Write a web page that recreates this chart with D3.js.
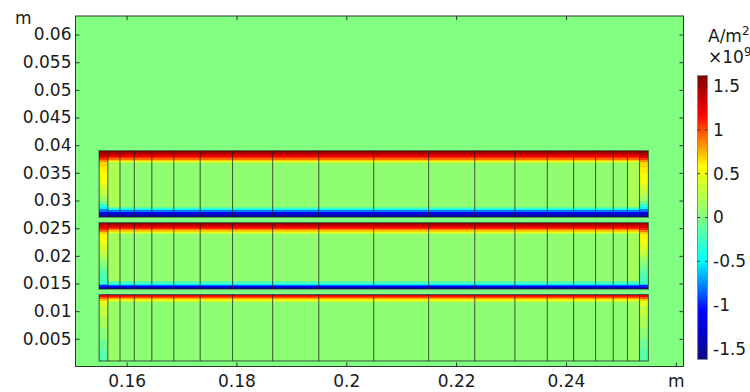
<!DOCTYPE html>
<html><head><meta charset="utf-8">
<script src="https://cdn.jsdelivr.net/npm/d3@7"></script>
<style>
html,body{margin:0;padding:0;background:#fff;}
svg{display:block;}
text{font-family:"DejaVu Sans",sans-serif;fill:#1a1a1a;}
</style>
</head><body>
<svg id="chart" width="750" height="392"></svg>
<script>
// Conductor layers (m)
const layerTop = [0.039, 0.026, 0.013];
const layerBottom = [0.027, 0.014, 0.001];
// Subdomain boundaries along x (m)
const colEdges = [0.155, 0.1566, 0.1588, 0.1614, 0.1646, 0.1686, 0.1734, 0.1793, 0.1866, 0.195,
  0.205, 0.215, 0.2234, 0.2307, 0.2366, 0.2414, 0.2454, 0.2486, 0.2512, 0.2534, 0.255];

// Axis ticks
const xTicks = [0.16, 0.18, 0.2, 0.22, 0.24, 0.26];
const xTickLabels = ["0.16", "0.18", "0.2", "0.22", "0.24", "m"];
const yTicks = [0.005, 0.01, 0.015, 0.02, 0.025, 0.03, 0.035, 0.04, 0.045, 0.05, 0.055, 0.06];
const yTickLabels = ["0.005", "0.01", "0.015", "0.02", "0.025", "0.03", "0.035", "0.04", "0.045", "0.05", "0.055", "0.06"];
const cbTicks = [1.5, 1, 0.5, 0, -0.5, -1, -1.5];
const cbTickLabels = ["1.5", "1", "0.5", "0", "-0.5", "-1", "-1.5"];

// Current density, in 1e9 A/m^2
const bandStep = 0.0002; // m between band samples
const topBand = [
  [1.56, 1.50, 1.44, 1.36, 1.28, 1.20, 1.08, 0.92, 0.72, 0.50, 0.30, 0.16],
  [1.52, 1.46, 1.38, 1.28, 1.18, 1.05, 0.90, 0.70, 0.48, 0.28, 0.15],
  [1.22, 1.12, 0.98, 0.80, 0.62, 0.45, 0.30, 0.18]
];
const bottomBand = [
  [-1.52, -1.46, -1.36, -1.22, -1.05, -0.80, -0.50, -0.28, -0.12],
  [-1.40, -1.30, -1.12, -0.85, -0.52, -0.25, -0.10],
  []
];
const interiorValue = [0.07, 0.07, 0.06];
const secondColValue = [0.2, 0.16, 0.12];
// End subdomains: depth below the top face (mm) and value per band
const edgeDepth = [
  [0, 0.5, 1.0, 1.3, 1.6, 2.0, 3, 4, 5, 6, 7, 8, 9, 9.6, 10.2, 10.6, 11, 11.4, 11.7, 12],
  [0, 0.5, 1.0, 1.3, 1.6, 2, 3, 4, 5, 6, 7, 8, 9, 10, 11, 11.3, 11.6, 12],
  [0, 0.4, 0.8, 1.2, 2, 4, 6, 8, 10, 12]
];
const edgeValue = [
  [1.55, 1.45, 1.25, 1.05, 0.85, 0.68, 0.62, 0.58, 0.52, 0.42, 0.3, 0.15, -0.05, -0.3, -0.5, -0.8, -1.1, -1.35, -1.5],
  [1.45, 1.3, 1.1, 0.9, 0.7, 0.6, 0.52, 0.42, 0.3, 0.15, 0.02, -0.1, -0.18, -0.25, -0.6, -1.0, -1.3],
  [1.2, 0.95, 0.7, 0.45, 0.3, 0.18, 0.05, -0.08, -0.16]
];
const airValue = 0;

// Rainbow colour table
const mapValues = [-1.62, -1.07, -0.49, 0, 0.58, 1.17, 1.62];
const mapColors = ["#0b0b85", "#0000ff", "#00ffff", "#80ff80", "#ffff00", "#ff0000", "#800000"];

const svg = d3.select("#chart");
const x = d3.scaleLinear().domain([0.1507, 0.2614]).range([75.5, 683.5]);
const y = d3.scaleLinear().domain([0, 0.06335]).range([366.5, 16]);
const color = d3.scaleLinear().domain(mapValues).range(mapColors).interpolate(d3.interpolateRgb).clamp(true);

// Air background
svg.append("rect").attr("x", x.range()[0]).attr("y", y.range()[1])
  .attr("width", x.range()[1] - x.range()[0]).attr("height", y.range()[0] - y.range()[1])
  .attr("fill", color(airValue));

const field = svg.append("g").attr("shape-rendering", "crispEdges");
const nCol = colEdges.length - 1;
const xa = colEdges[0], xb = colEdges[nCol];

layerTop.forEach((top, k) => {
  const bot = layerBottom[k];
  const g = field.append("g");
  // interior
  g.append("rect").attr("x", x(xa)).attr("width", x(xb) - x(xa))
    .attr("y", y(top)).attr("height", y(bot) - y(top)).attr("fill", color(interiorValue[k]));
  // second subdomain from each end
  [1, nCol - 2].forEach(c => {
    g.append("rect").attr("x", x(colEdges[c])).attr("width", x(colEdges[c + 1]) - x(colEdges[c]))
      .attr("y", y(top)).attr("height", y(bot) - y(top)).attr("fill", color(secondColValue[k]));
  });
  // skin layer under the top face
  g.selectAll(null).data(topBand[k]).join("rect")
    .attr("x", x(xa)).attr("width", x(xb) - x(xa))
    .attr("y", (d, i) => y(top - i * bandStep))
    .attr("height", (d, i) => y(top - (i + 1) * bandStep) - y(top - i * bandStep))
    .attr("fill", d => color(d));
  // skin layer above the bottom face
  g.selectAll(null).data(bottomBand[k]).join("rect")
    .attr("x", x(xa)).attr("width", x(xb) - x(xa))
    .attr("y", (d, i) => y(bot + (i + 1) * bandStep))
    .attr("height", (d, i) => y(bot + i * bandStep) - y(bot + (i + 1) * bandStep))
    .attr("fill", d => color(d));
  // end subdomains
  [0, nCol - 1].forEach(c => {
    g.selectAll(null).data(edgeValue[k]).join("rect")
      .attr("x", x(colEdges[c])).attr("width", x(colEdges[c + 1]) - x(colEdges[c]))
      .attr("y", (d, i) => y(top - edgeDepth[k][i] / 1000))
      .attr("height", (d, i) => y(top - edgeDepth[k][i + 1] / 1000) - y(top - edgeDepth[k][i] / 1000))
      .attr("fill", d => color(d));
  });
});

// Subdomain boundaries
const lines = svg.append("g").attr("stroke", "#1e1e1e").attr("stroke-opacity", 0.75).attr("stroke-width", 1).attr("fill", "none");
layerTop.forEach((top, k) => {
  const bot = layerBottom[k];
  lines.append("rect").attr("x", x(xa)).attr("y", y(top))
    .attr("width", x(xb) - x(xa)).attr("height", y(bot) - y(top));
  lines.selectAll(null).data(colEdges.slice(1, -1)).join("line")
    .attr("x1", d => x(d)).attr("x2", d => x(d))
    .attr("y1", y(top)).attr("y2", y(bot));
});

// Axes (ticks point inwards on all four sides)
const axColor = "#333";
const gx = svg.append("g").attr("transform", `translate(0,${y.range()[0]})`)
  .call(d3.axisBottom(x).tickValues(xTicks).tickSize(-4).tickSizeOuter(0).tickPadding(8)
    .tickFormat((d, i) => xTickLabels[i]));
const gxt = svg.append("g").attr("transform", `translate(0,${y.range()[1]})`)
  .call(d3.axisTop(x).tickValues(xTicks.slice(0, -1)).tickSize(-4).tickSizeOuter(0).tickFormat(""));
const gy = svg.append("g").attr("transform", `translate(${x.range()[0]},0)`)
  .call(d3.axisLeft(y).tickValues(yTicks).tickSize(-4).tickSizeOuter(0).tickPadding(4)
    .tickFormat((d, i) => yTickLabels[i]));
const gyr = svg.append("g").attr("transform", `translate(${x.range()[1]},0)`)
  .call(d3.axisRight(y).tickValues(yTicks).tickSize(-4).tickSizeOuter(0).tickFormat(""));
[gx, gxt, gy, gyr].forEach(g => {
  g.select(".domain").remove();
  g.selectAll(".tick line").attr("stroke", axColor);
  g.selectAll(".tick text").attr("font-size", 17).attr("font-family", "DejaVu Sans").attr("fill", "#1a1a1a");
});
svg.append("rect").attr("x", x.range()[0]).attr("y", y.range()[1])
  .attr("width", x.range()[1] - x.range()[0]).attr("height", y.range()[0] - y.range()[1])
  .attr("fill", "none").attr("stroke", axColor).attr("stroke-width", 1);
svg.append("text").attr("x", 15).attr("y", 24).attr("font-size", 17).text("m");

// Colour legend
const cb = {x: 697.5, w: 10};
const cy = d3.scaleLinear().domain([-1.62, 1.62]).range([359.5, 75.5]);
const grad = svg.append("defs").append("linearGradient").attr("id", "cbGrad")
  .attr("x1", 0).attr("y1", 1).attr("x2", 0).attr("y2", 0);
grad.selectAll("stop").data(mapValues).join("stop")
  .attr("offset", d => (d - mapValues[0]) / (mapValues[mapValues.length - 1] - mapValues[0]))
  .attr("stop-color", (d, i) => mapColors[i]);
svg.append("rect").attr("x", cb.x).attr("y", cy.range()[1]).attr("width", cb.w)
  .attr("height", cy.range()[0] - cy.range()[1]).attr("fill", "url(#cbGrad)")
  .attr("stroke", "#8a8a8a").attr("stroke-width", 1);
const cbt = svg.append("g");
cbt.selectAll(".l").data(cbTicks).join("line")
  .attr("x1", cb.x).attr("x2", cb.x + 2.5).attr("y1", d => cy(d)).attr("y2", d => cy(d))
  .attr("stroke", "#333");
cbt.selectAll(".r").data(cbTicks).join("line")
  .attr("x1", cb.x + cb.w - 2.5).attr("x2", cb.x + cb.w).attr("y1", d => cy(d)).attr("y2", d => cy(d))
  .attr("stroke", "#333");
cbt.selectAll("text").data(cbTicks).join("text")
  .attr("x", 713).attr("y", d => cy(d)).attr("dy", "0.35em").attr("font-size", 17)
  .text((d, i) => cbTickLabels[i]);
const t1 = svg.append("text").attr("x", 708).attr("y", 42).attr("font-size", 17).text("A/m");
t1.append("tspan").attr("font-size", 12).attr("dy", -7).text("2");
const t2 = svg.append("text").attr("x", 708).attr("y", 63).attr("font-size", 17).text("×10");
t2.append("tspan").attr("font-size", 12).attr("dy", -7).text("9");
</script>
</body></html>
